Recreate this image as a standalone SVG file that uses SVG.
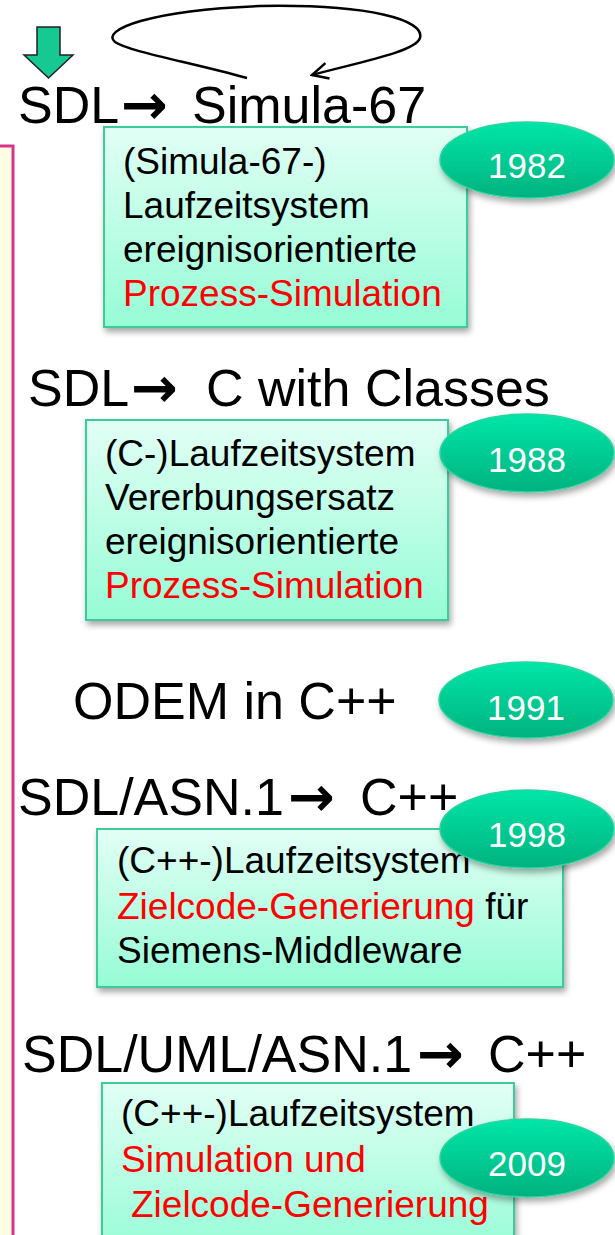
<svg xmlns="http://www.w3.org/2000/svg" width="615" height="1235" viewBox="0 0 615 1235">
<defs>
<linearGradient id="boxg" x1="0" y1="0" x2="0" y2="1">
<stop offset="0" stop-color="#E2FFF5"/>
<stop offset="1" stop-color="#96FCD6"/>
</linearGradient>
<linearGradient id="ellg" x1="0" y1="0" x2="0" y2="1">
<stop offset="0" stop-color="#00E6A8"/>
<stop offset="1" stop-color="#00B27F"/>
</linearGradient>
<filter id="sh" x="-10%" y="-10%" width="125%" height="130%">
<feDropShadow dx="2" dy="4" stdDeviation="3" flood-color="#000" flood-opacity="0.35"/>
</filter>
<marker id="openarrow" viewBox="0 0 20 20" refX="18" refY="10" markerWidth="20" markerHeight="20" markerUnits="userSpaceOnUse" orient="auto">
<path d="M2 2 L18 10 L2 18" fill="none" stroke="#000" stroke-width="2.5"/>
</marker>
<style>
.h{font-family:"Liberation Sans",Arial,sans-serif;font-size:52px;fill:#000}
.arr{font-family:"DejaVu Sans",sans-serif;font-weight:bold;font-size:56px}
.t{font-family:"Liberation Sans",Arial,sans-serif;font-size:37px;fill:#000}
.red{fill:#FF0000}
.box{fill:url(#boxg);stroke:#3CCB9C;stroke-width:2;filter:url(#sh)}
.ell{fill:url(#ellg);stroke:#2FD3A0;stroke-width:1.5;filter:url(#sh)}
.yr{font-family:"Liberation Sans",Arial,sans-serif;font-size:35px;fill:#fff;text-anchor:middle}
</style>
</defs>
<rect id="panel" x="-3" y="146" width="16" height="1100" fill="#FFFEE2" stroke="#D9348A" stroke-width="3"/>
<g id="connectors">
<polygon points="37,27 60,27 60,55 73,55 48.5,78 24,55 37,55" fill="#16C993" stroke="#222" stroke-width="1.5"/>
<path d="M247 78 C 190 62, 130 52, 115 42 C 100 30, 150 10, 260 6 C 370 4, 425 20, 420 38 C 415 52, 360 62, 312 75" fill="none" stroke="#000" stroke-width="2.5" marker-end="url(#openarrow)"/>
</g>
<g id="h1"><text class="h" x="18" y="123">SDL<tspan class="arr" x="121" y="124">→</tspan><tspan x="192" y="123">Simula-67</tspan></text></g>
<g id="n1982box">
<rect class="box" x="104" y="127" width="363" height="200"/>
<text class="t" x="123" y="174">(Simula-67-)</text>
<text class="t" x="123" y="218">Laufzeitsystem</text>
<text class="t" x="123" y="262">ereignisorientierte</text>
<text class="t red" x="123" y="306">Prozess-Simulation</text>
</g>
<g id="y1982"><ellipse class="ell" cx="527" cy="160" rx="87" ry="38"/><text class="yr" x="527" y="178">1982</text></g>

<g id="h2"><text class="h" x="28" y="406">SDL<tspan class="arr" x="131" y="407">→</tspan><tspan x="206" y="406">C with Classes</tspan></text></g>
<g id="n1988box">
<rect class="box" x="86" y="420" width="362" height="200"/>
<text class="t" x="105" y="466">(C-)Laufzeitsystem</text>
<text class="t" x="105" y="510">Vererbungsersatz</text>
<text class="t" x="105" y="554">ereignisorientierte</text>
<text class="t red" x="105" y="598">Prozess-Simulation</text>
</g>
<g id="y1988"><ellipse class="ell" cx="527" cy="453" rx="87" ry="39"/><text class="yr" x="527" y="472">1988</text></g>

<g id="h3"><text class="h" x="73" y="719">ODEM in C++</text></g>
<g id="y1991"><ellipse class="ell" cx="526" cy="700" rx="87" ry="38"/><text class="yr" x="526" y="720">1991</text></g>

<g id="h4"><text class="h" x="18" y="815">SDL/ASN.1<tspan class="arr" x="288" y="816">→</tspan><tspan x="360" y="815">C++</tspan></text></g>
<g id="n1998box">
<rect class="box" x="97" y="829" width="466" height="158"/>
<text class="t" x="117" y="873">(C++-)Laufzeitsystem</text>
<text class="t" x="117" y="919"><tspan class="red">Zielcode-Generierung</tspan> für</text>
<text class="t" x="117" y="963">Siemens-Middleware</text>
</g>
<g id="y1998"><ellipse class="ell" cx="527" cy="829" rx="87" ry="39"/><text class="yr" x="527" y="847">1998</text></g>

<g id="h5"><text class="h" x="22" y="1072">SDL/UML/ASN.1<tspan class="arr" x="417" y="1073">→</tspan><tspan x="488" y="1072">C++</tspan></text></g>
<g id="n2009box">
<rect class="box" x="102" y="1083" width="412" height="170"/>
<text class="t" x="121" y="1126">(C++-)Laufzeitsystem</text>
<text class="t red" x="121" y="1172">Simulation und</text>
<text class="t red" x="131" y="1217">Zielcode-Generierung</text>
</g>
<g id="y2009"><ellipse class="ell" cx="527" cy="1158" rx="87" ry="39"/><text class="yr" x="527" y="1176">2009</text></g>
</svg>
